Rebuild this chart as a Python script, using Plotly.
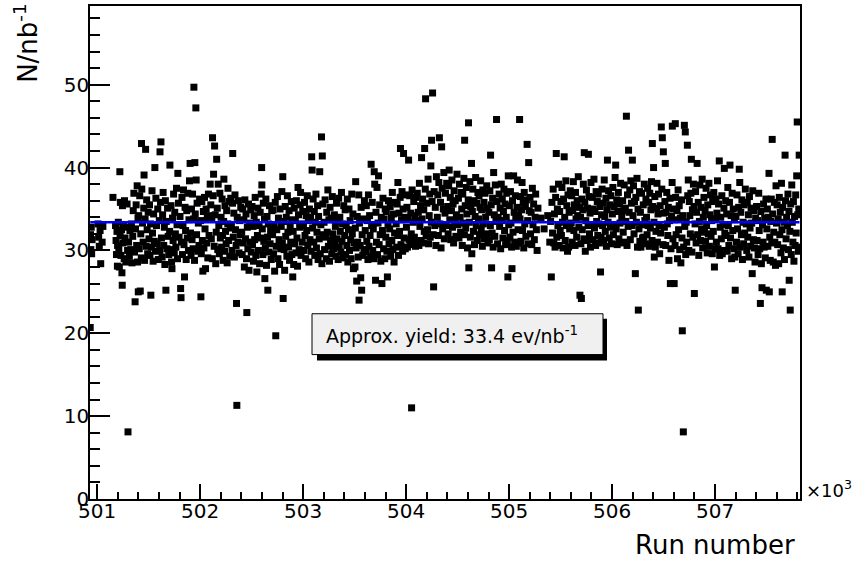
import plotly.graph_objects as go

# ---------------- data ----------------
run_number = [
    500932, 500935, 500938, 500942, 500946, 500950,
    501008, 501014, 501020, 501028, 501034, 501048, 501055,
    501153, 501178, 501183, 501187, 501192, 501196, 501198,
    501205, 501210, 501215, 501220, 501222, 501225, 501230, 501236, 501240, 501243, 501245, 501250, 501256, 501262, 501265, 501270, 501278, 501284, 501290, 501295, 501299,
    501305, 501312, 501318, 501325, 501332, 501338, 501345, 501350, 501356, 501362, 501368, 501372, 501378, 501383, 501388, 501392, 501396, 501399,
    501403, 501408, 501413, 501418, 501423, 501428, 501430, 501433, 501440, 501446, 501452, 501455, 501460, 501465, 501470, 501475, 501480, 501485, 501490, 501495,
    501503, 501508, 501512, 501518, 501521, 501526, 501532, 501537, 501543, 501548, 501555, 501560, 501565, 501570, 501576, 501582, 501588, 501594,
    501603, 501608, 501610, 501615, 501619, 501624, 501630, 501635, 501640, 501646, 501652, 501657, 501662, 501667, 501671, 501677, 501683, 501689, 501695,
    501703, 501706, 501712, 501717, 501722, 501726, 501731, 501737, 501742, 501748, 501753, 501759, 501764, 501770, 501775, 501780, 501783, 501789, 501795,
    501804, 501810, 501814, 501818, 501823, 501828, 501833, 501838, 501843, 501848, 501853, 501858, 501864, 501869, 501875, 501880, 501886, 501891, 501896,
    501902, 501906, 501911, 501916, 501921, 501926, 501931, 501936, 501939, 501945, 501948, 501952, 501958, 501961, 501965, 501970, 501976, 501982, 501988, 501994,
    502004, 502007, 502011, 502016, 502021, 502026, 502031, 502036, 502042, 502047, 502052, 502058, 502063, 502069, 502074, 502080, 502086, 502092, 502097,
    502103, 502108, 502113, 502118, 502120, 502126, 502130, 502136, 502140, 502146, 502151, 502156, 502160, 502166, 502171, 502175, 502181, 502186, 502191, 502196,
    502203, 502208, 502213, 502218, 502223, 502228, 502230, 502236, 502241, 502246, 502252, 502257, 502262, 502268, 502270, 502276, 502281, 502287, 502292, 502297,
    502303, 502309, 502314, 502316, 502321, 502327, 502332, 502338, 502343, 502349, 502353, 502356, 502360, 502366, 502371, 502377, 502382, 502388, 502394,
    502403, 502408, 502413, 502418, 502424, 502429, 502434, 502440, 502445, 502450, 502453, 502458, 502463, 502469, 502474, 502480, 502485, 502491, 502496,
    502503, 502508, 502513, 502518, 502524, 502529, 502534, 502540, 502545, 502550, 502556, 502561, 502566, 502572, 502577, 502583, 502588, 502593, 502597, 502599,
    502603, 502608, 502613, 502618, 502624, 502628, 502633, 502638, 502644, 502649, 502654, 502657, 502662, 502668, 502673, 502679, 502684, 502690, 502695,
    502703, 502708, 502713, 502718, 502723, 502729, 502734, 502739, 502744, 502750, 502755, 502760, 502766, 502771, 502776, 502782, 502787, 502793, 502798,
    502802, 502806, 502810, 502815, 502820, 502826, 502831, 502836, 502842, 502847, 502852, 502858, 502863, 502868, 502874, 502879, 502885, 502890, 502895, 502899,
    502903, 502908, 502913, 502918, 502924, 502929, 502934, 502940, 502945, 502950, 502955, 502961, 502966, 502971, 502975, 502980, 502986, 502991, 502996,
    503003, 503008, 503013, 503018, 503024, 503029, 503034, 503040, 503045, 503050, 503056, 503061, 503066, 503072, 503077, 503083, 503087, 503092, 503097,
    503103, 503108, 503113, 503118, 503124, 503129, 503134, 503140, 503145, 503150, 503156, 503161, 503166, 503172, 503178, 503182, 503186, 503191, 503196,
    503203, 503208, 503213, 503218, 503224, 503229, 503234, 503240, 503245, 503250, 503256, 503261, 503266, 503272, 503277, 503283, 503288, 503294,
    503303, 503308, 503313, 503318, 503324, 503329, 503334, 503340, 503345, 503350, 503356, 503361, 503366, 503372, 503377, 503383, 503388, 503394,
    503403, 503408, 503413, 503418, 503424, 503429, 503434, 503440, 503445, 503450, 503456, 503461, 503466, 503472, 503477, 503483, 503488, 503494,
    503503, 503507, 503510, 503515, 503520, 503525, 503530, 503535, 503540, 503543, 503548, 503554, 503559, 503563, 503568, 503573, 503579, 503584, 503590, 503595,
    503603, 503608, 503613, 503618, 503624, 503629, 503634, 503640, 503645, 503650, 503656, 503660, 503665, 503671, 503676, 503681, 503686, 503690, 503695,
    503703, 503707, 503712, 503717, 503722, 503727, 503732, 503738, 503743, 503748, 503754, 503759, 503765, 503770, 503775, 503781, 503786, 503792, 503797,
    503803, 503808, 503813, 503818, 503824, 503829, 503834, 503840, 503845, 503850, 503856, 503861, 503866, 503872, 503877, 503883, 503888, 503894,
    503903, 503908, 503913, 503918, 503920, 503926, 503931, 503936, 503942, 503945, 503950, 503955, 503960, 503966, 503971, 503975, 503981, 503986, 503992, 503997,
    504003, 504008, 504013, 504018, 504024, 504029, 504034, 504040, 504045, 504050, 504053, 504058, 504063, 504069, 504074, 504080, 504085, 504091, 504096,
    504103, 504108, 504113, 504118, 504124, 504129, 504134, 504140, 504145, 504150, 504155, 504160, 504166, 504171, 504176, 504180, 504186, 504189, 504194,
    504203, 504208, 504213, 504218, 504224, 504229, 504234, 504240, 504245, 504247, 504252, 504257, 504262, 504267, 504272, 504278, 504283, 504289, 504294,
    504303, 504308, 504313, 504318, 504323, 504328, 504334, 504339, 504345, 504350, 504355, 504361, 504366, 504371, 504377, 504382, 504388, 504394,
    504403, 504408, 504413, 504418, 504424, 504429, 504434, 504440, 504445, 504450, 504456, 504461, 504466, 504472, 504477, 504483, 504488, 504494,
    504503, 504508, 504513, 504518, 504524, 504529, 504534, 504540, 504545, 504550, 504556, 504561, 504566, 504568, 504574, 504579, 504585, 504590, 504596,
    504603, 504606, 504609, 504614, 504619, 504624, 504629, 504635, 504638, 504643, 504648, 504654, 504659, 504664, 504670, 504675, 504681, 504686, 504692, 504697,
    504703, 504708, 504713, 504718, 504724, 504729, 504734, 504740, 504745, 504750, 504756, 504761, 504766, 504772, 504777, 504783, 504788, 504794,
    504803, 504808, 504813, 504818, 504820, 504826, 504830, 504835, 504840, 504845, 504850, 504856, 504861, 504866, 504872, 504878, 504883, 504888, 504894,
    504903, 504908, 504913, 504918, 504924, 504929, 504934, 504940, 504945, 504950, 504956, 504961, 504966, 504972, 504977, 504983, 504988, 504992, 504996,
    505003, 505008, 505013, 505018, 505024, 505028, 505033, 505038, 505044, 505049, 505054, 505060, 505065, 505070, 505076, 505081, 505087, 505092, 505097,
    505102, 505106, 505111, 505116, 505121, 505126, 505131, 505137, 505142, 505147, 505152, 505158, 505163, 505168, 505175, 505180, 505186, 505190, 505195,
    505203, 505208, 505214, 505220, 505226, 505232, 505238, 505245, 505252, 505258, 505265, 505272, 505280,
    505310, 505340, 505375, 505395,
    505403, 505410, 505416, 505422, 505428, 505434, 505440, 505446, 505452, 505458, 505463, 505469, 505474, 505480, 505485, 505491, 505496,
    505503, 505508, 505513, 505518, 505524, 505529, 505535, 505540, 505545, 505551, 505556, 505561, 505567, 505572, 505578, 505583, 505588, 505594,
    505603, 505608, 505613, 505618, 505624, 505629, 505634, 505640, 505645, 505650, 505656, 505661, 505666, 505672, 505677, 505683, 505688, 505694, 505697,
    505702, 505706, 505711, 505716, 505721, 505726, 505730, 505735, 505740, 505745, 505751, 505756, 505762, 505767, 505770, 505776, 505781, 505786, 505790, 505795,
    505803, 505808, 505813, 505818, 505824, 505829, 505834, 505840, 505845, 505850, 505856, 505861, 505866, 505872, 505877, 505883, 505888, 505894, 505898,
    505903, 505908, 505913, 505918, 505924, 505929, 505934, 505940, 505945, 505950, 505955, 505961, 505966, 505972, 505977, 505983, 505988, 505994,
    506003, 506008, 506013, 506018, 506024, 506029, 506035, 506040, 506045, 506050, 506056, 506061, 506066, 506072, 506077, 506083, 506088, 506094,
    506103, 506108, 506113, 506118, 506124, 506129, 506134, 506139, 506145, 506150, 506156, 506160, 506166, 506172, 506177, 506182, 506188, 506194,
    506197, 506203, 506208, 506213, 506218, 506226, 506231, 506236, 506242, 506247, 506252, 506255, 506261, 506266, 506270, 506275, 506280, 506286, 506291, 506296,
    506303, 506308, 506313, 506318, 506324, 506329, 506334, 506340, 506345, 506350, 506356, 506361, 506366, 506372, 506377, 506383, 506388, 506391, 506394,
    506403, 506407, 506410, 506415, 506420, 506426, 506431, 506436, 506440, 506446, 506451, 506456, 506462, 506467, 506472, 506478, 506483, 506488, 506494, 506498,
    506503, 506508, 506513, 506517, 506521, 506526, 506531, 506536, 506541, 506546, 506552, 506557, 506562, 506566, 506572, 506577, 506583, 506585, 506591, 506596,
    506603, 506607, 506612, 506614, 506617, 506622, 506630, 506635, 506641, 506646, 506652, 506657, 506663, 506668, 506674, 506679, 506682, 506686, 506692, 506695,
    506702, 506706, 506711, 506715, 506720, 506725, 506731, 506735, 506740, 506745, 506750, 506755, 506760, 506765, 506770, 506775, 506780, 506785, 506790, 506796,
    506799, 506806, 506811, 506816, 506821, 506826, 506831, 506837, 506842, 506848, 506853, 506858, 506864, 506869, 506875, 506880, 506886, 506892, 506897,
    506903, 506908, 506913, 506918, 506924, 506929, 506934, 506940, 506945, 506950, 506956, 506961, 506966, 506973, 506977, 506983, 506988, 506994, 506998,
    507003, 507008, 507013, 507018, 507024, 507029, 507034, 507041, 507045, 507050, 507055, 507061, 507066, 507070, 507077, 507082, 507086, 507090, 507095,
    507103, 507108, 507113, 507118, 507124, 507129, 507134, 507140, 507145, 507150, 507156, 507161, 507166, 507172, 507177, 507183, 507188, 507192, 507196,
    507203, 507208, 507213, 507218, 507224, 507229, 507235, 507240, 507245, 507250, 507256, 507261, 507266, 507272, 507277, 507283, 507288, 507294,
    507303, 507308, 507313, 507318, 507324, 507329, 507334, 507340, 507345, 507350, 507356, 507361, 507366, 507372, 507377, 507383, 507388, 507394,
    507403, 507408, 507413, 507418, 507424, 507429, 507434, 507440, 507445, 507450, 507456, 507461, 507466, 507471, 507477, 507482, 507488, 507494, 507498,
    507503, 507508, 507513, 507518, 507524, 507527, 507531, 507536, 507541, 507546, 507551, 507555, 507560, 507565, 507570, 507576, 507581, 507587, 507592, 507597,
    507603, 507608, 507613, 507618, 507624, 507629, 507634, 507640, 507645, 507650, 507652, 507657, 507663, 507668, 507674, 507680, 507684, 507690, 507695,
    507703, 507708, 507713, 507718, 507720, 507726, 507730, 507735, 507740, 507745, 507750, 507756, 507761, 507766, 507772, 507777, 507783, 507788, 507793, 507798, 507803, 507808, 507813, 507817, 507820,
]

yield_per_nb = [
    20.7, 31.9, 30.1, 32.8, 29.6, 31.3,
    33.2, 31.6, 30.5, 32.4, 28.4, 31.0, 32.9,
    36.4, 33.0, 31.2, 29.5, 32.3, 28.1, 30.6,
    33.4, 30.2, 28.0, 39.5, 31.8, 35.8, 29.4, 32.5, 27.3, 25.8, 35.4, 30.9, 33.0, 29.0, 36.0, 31.5, 28.6, 32.8, 35.6, 30.0, 8.1,
    31.0, 29.3, 32.4, 30.1, 33.2, 28.5, 31.7, 34.8, 36.9, 29.8, 23.8, 32.6, 35.5, 30.6, 37.8, 28.6, 33.9, 25.0,
    34.2, 30.2, 36.6, 25.1, 32.0, 29.1, 42.9, 37.4, 33.3, 31.0, 35.1, 39.1, 28.8, 33.8, 42.2, 30.5, 36.1, 32.5, 29.6, 34.6,
    31.4, 35.5, 29.4, 33.2, 24.6, 30.4, 37.2, 32.1, 28.7, 34.4, 31.1, 40.0, 29.9, 36.3, 33.0, 30.8, 35.0, 28.9,
    33.6, 30.0, 41.9, 35.8, 43.1, 31.5, 29.2, 34.3, 37.0, 30.6, 32.8, 28.3, 36.0, 25.2, 33.5, 30.2, 35.1, 31.7, 29.5,
    32.3, 40.3, 30.1, 35.4, 28.6, 27.8, 33.9, 31.2, 36.8, 29.7, 34.6, 32.0, 30.4, 37.5, 33.1, 29.0, 39.3, 35.7, 31.6,
    34.1, 25.4, 24.3, 31.0, 36.4, 29.5, 33.0, 37.3, 30.7, 26.8, 35.2, 32.4, 28.9, 34.8, 31.5, 36.9, 30.0, 33.7, 38.4,
    40.5, 32.1, 29.4, 35.0, 31.3, 36.8, 30.2, 33.8, 49.7, 28.8, 40.6, 34.4, 47.2, 38.5, 31.9, 35.7, 29.9, 33.3, 30.6, 36.2,
    33.6, 24.4, 29.6, 35.9, 31.2, 27.5, 34.7, 30.3, 36.4, 32.6, 27.8, 35.0, 30.9, 33.9, 29.1, 36.8, 31.8, 34.2, 38.0,
    35.5, 31.4, 33.8, 29.0, 43.6, 36.6, 39.2, 30.5, 42.6, 34.3, 28.4, 32.2, 41.0, 35.1, 30.1, 38.0, 33.0, 29.6, 36.9, 31.5,
    34.0, 30.4, 36.2, 31.8, 28.8, 33.5, 38.6, 29.9, 35.4, 32.3, 30.8, 34.8, 28.5, 33.2, 37.5, 31.2, 35.9, 29.3, 32.7, 36.3,
    33.1, 30.0, 35.7, 41.7, 31.6, 34.5, 29.2, 36.7, 32.5, 30.6, 23.6, 11.3, 34.0, 31.0, 36.0, 29.7, 33.6, 31.9, 35.2,
    32.2, 29.5, 35.0, 30.9, 33.7, 28.0, 36.1, 31.4, 34.4, 29.0, 22.5, 32.8, 30.2, 35.6, 27.6, 33.3, 31.0, 34.9, 29.8,
    35.3, 30.7, 32.9, 28.7, 34.2, 31.3, 36.4, 29.4, 33.4, 27.4, 31.8, 35.1, 30.0, 33.0, 28.4, 34.6, 31.5, 36.8, 40.0, 37.9,
    32.6, 29.5, 35.7, 31.1, 33.8, 26.6, 30.3, 36.2, 28.2, 34.1, 31.6, 25.2, 33.2, 29.8, 35.4, 30.8, 32.4, 28.9, 34.8,
    31.9, 34.9, 29.6, 33.1, 27.5, 35.8, 19.7, 30.5, 32.5, 36.5, 29.0, 33.9, 31.3, 28.3, 35.0, 30.2, 32.9, 37.1, 30.9,
    38.9, 24.2, 33.5, 30.1, 27.6, 35.3, 31.7, 34.0, 29.3, 36.6, 32.2, 30.4, 34.8, 28.8, 33.0, 31.0, 35.9, 29.5, 33.7, 26.8,
    32.3, 28.3, 35.1, 30.8, 33.6, 29.7, 36.0, 31.5, 28.1, 37.6, 34.3, 30.1, 32.8, 35.5, 37.0, 29.4, 33.2, 31.0, 34.7,
    33.0, 30.0, 35.8, 31.8, 29.0, 34.2, 32.4, 36.6, 30.6, 33.6, 28.6, 35.0, 31.3, 34.0, 29.9, 41.3, 39.7, 32.7, 36.2,
    31.0, 34.7, 29.4, 33.4, 36.8, 30.3, 32.2, 35.4, 28.9, 34.1, 31.4, 39.5, 29.6, 33.1, 43.7, 28.4, 41.4, 35.6, 31.9,
    33.4, 30.1, 36.1, 31.6, 29.0, 34.6, 32.2, 37.3, 30.5, 33.7, 28.7, 35.2, 31.2, 33.9, 29.6, 36.5, 32.0, 30.2,
    34.3, 30.8, 32.9, 29.3, 35.7, 31.4, 33.5, 28.9, 36.3, 30.4, 34.0, 32.3, 29.8, 37.0, 31.1, 33.2, 29.1, 35.4,
    31.8, 34.9, 29.5, 33.0, 30.6, 36.2, 28.6, 32.5, 35.0, 30.0, 33.6, 31.3, 29.0, 36.8, 32.0, 34.4, 27.8, 30.9,
    28.0, 32.7, 38.3, 30.3, 26.3, 34.1, 31.0, 29.2, 36.7, 24.0, 33.3, 30.6, 26.7, 35.2, 25.2, 31.9, 29.4, 33.8, 30.1, 36.0,
    32.4, 29.8, 35.4, 31.1, 33.6, 28.9, 36.7, 30.5, 34.2, 31.8, 29.3, 40.4, 33.0, 35.8, 30.0, 32.6, 29.0, 39.5, 38.0,
    26.4, 34.6, 31.0, 37.6, 29.5, 33.3, 39.0, 30.7, 35.5, 31.9, 28.7, 34.0, 26.0, 32.4, 36.3, 30.2, 33.8, 29.0, 35.0,
    31.6, 34.7, 29.9, 26.8, 33.1, 36.0, 30.8, 32.6, 35.3, 29.3, 33.9, 31.2, 37.0, 30.1, 34.4, 28.6, 32.1, 35.8,
    33.2, 30.4, 35.6, 31.8, 38.2, 29.4, 34.5, 32.3, 36.4, 42.3, 30.7, 33.7, 37.1, 29.9, 35.0, 41.7, 31.5, 34.0, 30.2, 36.7,
    32.8, 35.2, 30.4, 33.9, 40.9, 31.3, 36.6, 30.7, 34.5, 32.0, 11.0, 37.3, 30.9, 33.4, 35.9, 31.6, 34.2, 30.5, 36.4,
    33.6, 36.9, 31.1, 34.6, 30.6, 38.1, 32.9, 35.4, 31.2, 41.2, 33.8, 36.2, 30.9, 34.9, 32.3, 42.3, 37.4, 48.3, 31.8,
    35.7, 32.5, 38.6, 30.8, 34.2, 36.8, 31.6, 40.2, 33.4, 43.3, 35.9, 49.0, 31.9, 25.6, 37.1, 33.0, 35.2, 30.6, 38.9,
    34.0, 36.7, 31.8, 38.2, 43.6, 33.2, 35.8, 30.3, 42.5, 37.5, 32.6, 35.0, 39.4, 31.4, 34.5, 36.9, 33.0, 38.1,
    35.3, 32.0, 37.8, 39.7, 33.7, 36.4, 31.3, 34.8, 38.5, 32.8, 35.6, 30.9, 37.2, 33.5, 36.0, 31.7, 34.3, 39.2,
    33.1, 36.3, 31.5, 38.0, 34.0, 32.2, 37.0, 35.0, 30.6, 36.8, 33.3, 38.7, 31.9, 43.3, 35.4, 32.7, 37.6, 34.4, 30.3,
    36.1, 45.4, 27.9, 33.4, 38.3, 31.6, 35.3, 40.5, 29.6, 34.7, 37.4, 32.3, 36.0, 30.7, 34.1, 38.8, 33.0, 35.7, 31.2, 37.0,
    33.8, 36.6, 31.9, 35.2, 38.4, 32.6, 34.9, 30.5, 37.3, 33.2, 35.8, 31.4, 36.9, 34.0, 32.0, 37.8, 35.1, 30.9,
    34.6, 31.3, 37.2, 33.0, 41.5, 35.5, 27.9, 32.1, 36.3, 30.4, 39.4, 34.3, 31.7, 37.9, 33.5, 45.8, 35.9, 30.8, 34.0,
    36.8, 32.9, 35.1, 30.2, 38.0, 33.6, 36.2, 31.5, 34.7, 37.4, 32.4, 35.6, 30.7, 34.0, 36.9, 31.2, 26.8, 39.0, 33.1,
    35.4, 31.6, 37.1, 33.3, 30.4, 27.8, 36.0, 32.2, 39.0, 34.6, 31.0, 36.6, 33.9, 30.5, 35.2, 38.5, 32.5, 34.3, 30.9,
    45.8, 33.8, 36.5, 31.1, 34.9, 38.2, 32.4, 35.7, 30.3, 37.0, 33.2, 35.3, 31.7, 36.1, 42.8, 33.6, 30.8, 40.6, 34.8,
    36.4, 32.0, 34.6, 30.7, 37.5, 33.1, 35.6, 31.3, 34.0, 36.8, 32.5, 30.0, 35.1,
    33.9, 32.6, 34.2, 31.0,
    33.5, 26.8, 35.8, 32.1, 37.4, 30.9, 34.4, 30.4, 36.4, 41.7, 31.6, 35.0, 33.0, 38.0, 30.6, 34.7, 32.4,
    35.9, 31.8, 37.6, 33.4, 30.3, 36.2, 41.3, 34.0, 31.2, 38.4, 33.0, 35.4, 29.9, 36.7, 30.4, 34.6, 32.6, 37.2,
    33.3, 36.6, 31.0, 34.8, 38.3, 32.4, 35.5, 30.6, 37.0, 33.8, 31.6, 36.0, 34.2, 38.9, 32.8, 35.2, 24.6, 34.0, 30.8,
    24.2, 36.2, 32.5, 34.9, 38.0, 31.4, 41.8, 35.8, 29.9, 33.6, 37.3, 31.2, 35.1, 33.0, 41.6, 36.5, 32.0, 34.5, 30.4, 38.2,
    33.1, 36.4, 31.3, 35.0, 38.6, 32.7, 34.7, 30.6, 37.1, 33.5, 35.9, 31.8, 36.8, 33.2, 30.9, 35.3, 27.4, 31.6, 34.3,
    37.4, 33.0, 35.7, 31.2, 38.5, 34.1, 32.3, 36.3, 30.5, 34.9, 40.9, 33.4, 37.2, 31.5, 35.5, 32.8, 36.6, 30.8,
    34.4, 37.6, 31.9, 35.3, 33.1, 38.8, 40.3, 32.6, 36.1, 30.7, 34.7, 37.0, 31.4, 35.6, 33.3, 38.1, 30.9, 34.0,
    36.0, 32.2, 34.8, 37.9, 31.0, 35.1, 33.5, 46.2, 30.6, 36.7, 32.9, 42.1, 34.6, 37.3, 31.3, 38.4, 35.7, 33.0,
    40.9, 34.2, 37.8, 32.0, 35.9, 27.2, 36.4, 33.4, 38.7, 30.4, 35.0, 22.8, 32.6, 37.1, 31.1, 34.6, 30.4, 36.9, 33.1, 31.5,
    35.5, 31.6, 38.0, 33.6, 30.8, 36.2, 34.0, 31.9, 37.5, 33.0, 35.8, 30.5, 36.9, 32.7, 34.9, 38.3, 31.2, 42.9, 35.3,
    40.0, 33.4, 29.2, 36.5, 30.4, 32.3, 35.1, 38.1, 31.0, 34.4, 36.8, 33.0, 29.6, 35.4, 32.1, 44.9, 37.4, 43.6, 30.7, 41.9,
    34.5, 32.8, 35.9, 40.5, 30.6, 34.6, 37.0, 33.2, 31.8, 35.2, 28.8, 33.6, 36.3, 26.0, 30.2, 34.1, 38.2, 45.0, 31.4, 35.0,
    26.0, 33.7, 30.6, 45.3, 36.4, 31.9, 34.8, 29.0, 37.3, 32.5, 35.4, 30.1, 33.9, 28.5, 36.1, 31.5, 20.3, 34.2, 8.1, 30.4,
    45.1, 32.9, 44.3, 29.5, 33.4, 31.0, 42.7, 36.6, 38.5, 30.0, 35.9, 34.2, 32.0, 36.9, 41.0, 29.8, 34.9, 31.6, 38.0, 35.3,
    24.8, 33.2, 37.1, 30.9, 34.6, 40.5, 31.9, 35.8, 29.4, 33.5, 37.9, 31.2, 35.2, 32.6, 38.6, 30.3, 34.0, 36.4, 32.2,
    34.8, 31.1, 37.5, 33.0, 29.7, 35.5, 32.0, 38.1, 30.5, 34.3, 36.7, 31.7, 33.6, 29.6, 35.9, 32.3, 37.0, 28.0, 30.2,
    33.8, 36.2, 31.0, 34.5, 38.4, 30.2, 35.6, 40.8, 29.4, 32.8, 34.0, 31.4, 36.6, 29.6, 33.1, 30.0, 35.1, 39.9, 32.1,
    36.0, 31.8, 34.4, 29.9, 37.6, 33.0, 30.6, 35.8, 40.3, 31.5, 34.2, 29.0, 36.9, 32.4, 35.0, 30.2, 33.7, 29.2, 25.2,
    34.1, 31.0, 36.7, 32.6, 29.6, 35.2, 39.8, 38.2, 30.4, 34.6, 31.9, 36.1, 28.9, 33.4, 30.8, 35.5, 32.1, 37.4,
    33.2, 30.0, 35.8, 31.6, 34.3, 29.2, 36.5, 32.7, 30.5, 35.1, 33.3, 27.2, 37.2, 31.3, 34.8, 30.3, 28.6, 33.9,
    35.3, 31.2, 33.6, 29.5, 36.9, 32.4, 30.2, 23.6, 34.7, 28.4, 25.5, 33.1, 31.0, 35.6, 30.4, 33.9, 29.1, 36.2, 25.2,
    32.6, 35.0, 30.5, 34.0, 39.3, 25.0, 31.6, 28.8, 33.5, 36.2, 30.9, 43.4, 34.4, 28.6, 32.2, 35.8, 31.0, 28.2, 37.8, 33.3,
    35.5, 30.7, 33.8, 28.4, 36.4, 31.9, 34.6, 29.7, 38.1, 32.5, 25.0, 35.2, 30.3, 33.4, 28.9, 41.5, 36.0, 31.4, 34.0,
    33.0, 36.8, 30.1, 34.7, 26.4, 32.3, 22.8, 35.6, 29.5, 37.9, 33.4, 31.0, 35.9, 28.7, 34.1, 30.6, 36.7, 32.1, 39.0, 45.5, 34.3, 29.9, 35.0, 41.5, 30.4,
]

fit_yield = 33.4  # approx. yield, ev/nb^-1

major_runs = [501000, 502000, 503000, 504000, 505000, 506000, 507000]
major_labels = ["501", "502", "503", "504", "505", "506", "507"]

assert len(run_number) == len(yield_per_nb), (len(run_number), len(yield_per_nb))

# ---------------- figure ----------------
FONT = "DejaVu Sans"
fig = go.Figure()

fig.add_trace(go.Scatter(
    x=run_number, y=yield_per_nb, mode="markers",
    marker=dict(symbol="square", size=7, color="black", line=dict(width=0)),
    hoverinfo="x+y", showlegend=False,
))

fig.add_trace(go.Scatter(
    x=[run_number[0], run_number[-1]], y=[fit_yield, fit_yield], mode="lines",
    line=dict(color="#0000ff", width=2.5), showlegend=False, hoverinfo="skip",
))

fig.update_layout(
    width=852, height=565,
    margin=dict(l=90, r=52, t=4, b=66),
    plot_bgcolor="white", paper_bgcolor="white",
    font=dict(family=FONT, color="black"),
    showlegend=False,
)

fig.update_xaxes(
    range=[500930, 507825],
    showline=True, linecolor="black", linewidth=1.5, mirror=True,
    showgrid=False, zeroline=False,
    ticks="inside", ticklen=15, tickwidth=1.5, tickcolor="black",
    tickmode="array", tickvals=major_runs, ticktext=major_labels,
    tickfont=dict(family=FONT, size=20, color="black"),
    ticklabelstandoff=-7,
    minor=dict(ticks="inside", ticklen=7, tickwidth=1.5, tickcolor="black",
               tickmode="linear", tick0=501000, dtick=200, showgrid=False),
)

fig.update_yaxes(
    range=[0, 59.5],
    showline=True, linecolor="black", linewidth=1.5, mirror=True,
    showgrid=False, zeroline=False,
    ticks="inside", ticklen=20, tickwidth=1.5, tickcolor="black",
    tickmode="linear", tick0=0, dtick=10,
    tickfont=dict(family=FONT, size=20, color="black"),
    ticklabelstandoff=-5,
    minor=dict(ticks="inside", ticklen=10, tickwidth=1.5, tickcolor="black",
               tickmode="linear", tick0=0, dtick=2, showgrid=False),
)

PW, PH, L, T = 710.0, 495.0, 90.0, 4.0


def px_x(p):
    return (p - L) / PW


def px_y(p):
    return (T + PH - p) / PH


# stats box with shadow
fig.add_shape(type="rect", xref="paper", yref="paper",
              x0=px_x(317), x1=px_x(607), y0=px_y(360), y1=px_y(318),
              fillcolor="black", line=dict(width=0), layer="above")
fig.add_shape(type="rect", xref="paper", yref="paper",
              x0=px_x(312), x1=px_x(603), y0=px_y(354), y1=px_y(313),
              fillcolor="#f0f0f0", line=dict(color="black", width=1), layer="above")

fig.add_annotation(xref="paper", yref="paper", x=px_x(324), y=px_y(334),
                   xanchor="left", yanchor="middle", showarrow=False,
                   text=f"Approx. yield: {fit_yield} ev/nb<sup>-1</sup>",
                   font=dict(family=FONT, size=19, color="black"))

# axis titles
fig.add_annotation(xref="paper", yref="paper", x=px_x(26), y=px_y(42),
                   xanchor="center", yanchor="middle", showarrow=False,
                   textangle=-90, text="N/nb<sup>-1</sup>",
                   font=dict(family=FONT, size=26, color="black"))
fig.add_annotation(xref="paper", yref="paper", x=px_x(797), y=px_y(545),
                   xanchor="right", yanchor="middle", showarrow=False,
                   text="Run number",
                   font=dict(family=FONT, size=26, color="black"))
fig.add_annotation(xref="paper", yref="paper", x=px_x(804), y=px_y(489),
                   xanchor="left", yanchor="middle", showarrow=False,
                   text="×10<sup>3</sup>",
                   font=dict(family=FONT, size=18, color="black"))

fig.write_html("out.html")
